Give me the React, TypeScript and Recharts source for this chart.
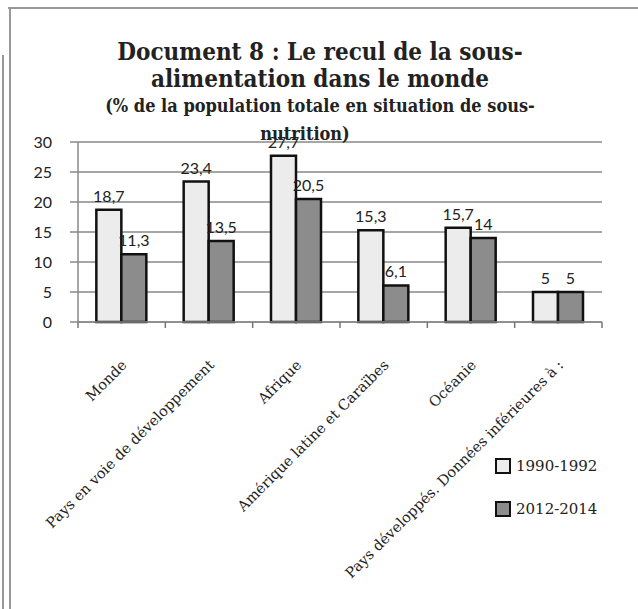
import { Bar, BarChart, CartesianGrid, LabelList, XAxis, YAxis } from "recharts";

const CATEGORIES = [
  "Monde",
  "Pays en voie de développement",
  "Afrique",
  "Amérique latine et Caraïbes",
  "Océanie",
  "Pays développés. Données inférieures à :",
];
const SERIES_1990 = [18.7, 23.4, 27.7, 15.3, 15.7, 5];
const SERIES_2012 = [11.3, 13.5, 20.5, 6.1, 14, 5];
const Y_TICKS = [0, 5, 10, 15, 20, 25, 30];

const LIGHT = "#ececec";
const DARK = "#8c8c8c";
const SANS = "Lato, 'Open Sans', sans-serif";
const SERIF = "'DejaVu Serif', serif";

const data = CATEGORIES.map((name, i) => ({
  name,
  a: SERIES_1990[i],
  b: SERIES_2012[i],
}));

const fmt = (v: number) => String(v).replace(".", ",");

function CategoryTick(props: any) {
  const { x, y, payload, index } = props;
  const half = payload?.offset ?? 43.7;
  const tx = x + 6;
  const ty = y + 36;
  return (
    <g>
      <line x1={x - half} y1={y - 8} x2={x - half} y2={y - 2} stroke="#777" strokeWidth={1.5} />
      {index === CATEGORIES.length - 1 && (
        <line x1={x + half} y1={y - 8} x2={x + half} y2={y - 2} stroke="#777" strokeWidth={1.5} />
      )}
      <text
        x={tx}
        y={ty}
        transform={`rotate(-45 ${tx} ${ty})`}
        textAnchor="end"
        fontFamily={SERIF}
        fontSize={14.5}
        fill="#222"
      >
        {payload.value}
      </text>
    </g>
  );
}

export default function App() {
  const titleStyle = {
    fontFamily: SERIF,
    fontWeight: "bold",
    fontStretch: "condensed",
    fill: "#222",
  } as const;
  return (
    <div
      style={{
        position: "absolute",
        left: 0,
        top: 0,
        width: 638,
        height: 609,
        background: "#fff",
        overflow: "hidden",
      }}
    >
      <div style={{ position: "absolute", left: 8, top: 7, width: 630, height: 2, background: "#999" }} />
      <div style={{ position: "absolute", left: 9, top: 7, width: 2, height: 602, background: "#999" }} />
      <div style={{ position: "absolute", left: 2, top: 55, width: 2, height: 554, background: "#999" }} />
      <div style={{ position: "absolute", left: 0, top: 0 }}>
        <BarChart
          width={638}
          height={609}
          data={data}
          margin={{ top: 142, right: 36, left: 0, bottom: 0 }}
          barCategoryGap="21%"
          barGap={0}
        >
          <CartesianGrid vertical={false} stroke="#888" strokeWidth={1.5} />
          <XAxis
            dataKey="name"
            height={287}
            interval={0}
            axisLine={{ stroke: "#888", strokeWidth: 1.5 }}
            tickLine={false}
            tick={<CategoryTick />}
          />
          <YAxis
            width={78}
            domain={[0, 30]}
            ticks={Y_TICKS}
            tickSize={8}
            tickMargin={18}
            axisLine={{ stroke: "#888", strokeWidth: 1.5 }}
            tickLine={{ stroke: "#888", strokeWidth: 1.5 }}
            tick={{ fontFamily: SANS, fontSize: 16, fill: "#222" }}
          />
          <Bar dataKey="a" name="1990-1992" fill={LIGHT} stroke="#111" strokeWidth={2.5} isAnimationActive={false}>
            <LabelList dataKey="a" position="top" offset={8} formatter={fmt} style={{ fontFamily: SANS, fontSize: 16, fill: "#222" }} />
          </Bar>
          <Bar dataKey="b" name="2012-2014" fill={DARK} stroke="#111" strokeWidth={2.5} isAnimationActive={false}>
            <LabelList dataKey="b" position="top" offset={8} formatter={fmt} style={{ fontFamily: SANS, fontSize: 16, fill: "#222" }} />
          </Bar>
        </BarChart>
      </div>
      <svg width={638} height={160} style={{ position: "absolute", left: 0, top: 0, pointerEvents: "none" }}>
        <text x={320} y={60} textAnchor="middle" fontSize={24} {...titleStyle}>
          Document 8 : Le recul de la sous-
        </text>
        <text x={320} y={87} textAnchor="middle" fontSize={24} {...titleStyle}>
          alimentation dans le monde
        </text>
        <text x={320} y={112} textAnchor="middle" fontSize={18} {...titleStyle}>
          (% de la population totale en situation de sous-
        </text>
        <text x={305} y={140} textAnchor="middle" fontSize={18} {...titleStyle}>
          nutrition)
        </text>
      </svg>
      {[
        { label: "1990-1992", color: LIGHT, top: 458 },
        { label: "2012-2014", color: DARK, top: 501 },
      ].map((item) => (
        <div
          key={item.label}
          style={{ position: "absolute", left: 495, top: item.top, display: "flex", alignItems: "center" }}
        >
          <div
            style={{
              width: 12,
              height: 12,
              background: item.color,
              border: "2.5px solid #111",
              marginRight: 5,
            }}
          />
          <span style={{ fontFamily: SERIF, fontSize: 15, color: "#222", lineHeight: "16px" }}>
            {item.label}
          </span>
        </div>
      ))}
    </div>
  );
}
